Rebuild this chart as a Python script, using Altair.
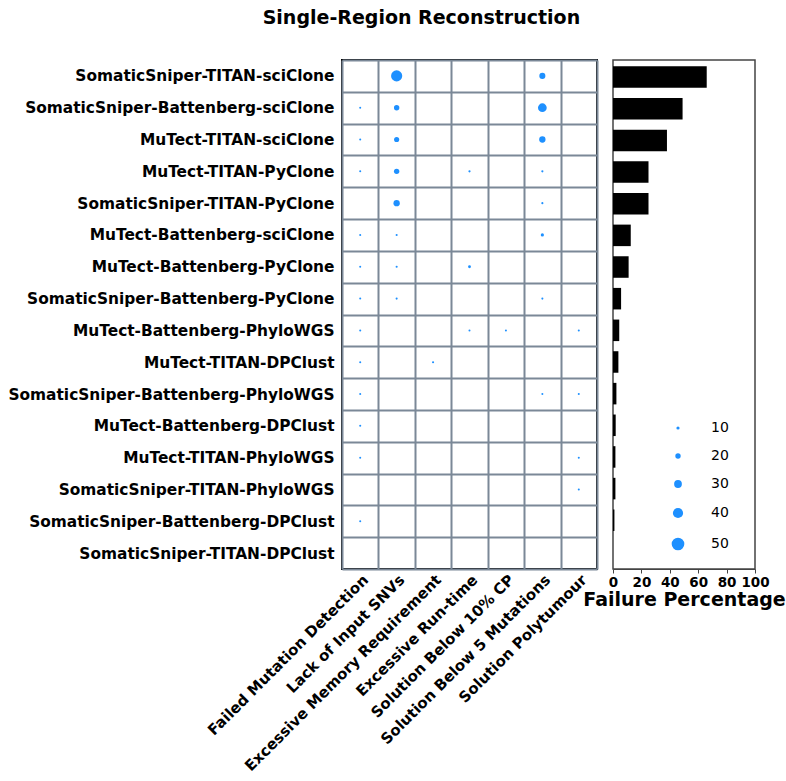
import altair as alt
import pandas as pd

pipelines = [
    "SomaticSniper-TITAN-sciClone",
    "SomaticSniper-Battenberg-sciClone",
    "MuTect-TITAN-sciClone",
    "MuTect-TITAN-PyClone",
    "SomaticSniper-TITAN-PyClone",
    "MuTect-Battenberg-sciClone",
    "MuTect-Battenberg-PyClone",
    "SomaticSniper-Battenberg-PyClone",
    "MuTect-Battenberg-PhyloWGS",
    "MuTect-TITAN-DPClust",
    "SomaticSniper-Battenberg-PhyloWGS",
    "MuTect-Battenberg-DPClust",
    "MuTect-TITAN-PhyloWGS",
    "SomaticSniper-TITAN-PhyloWGS",
    "SomaticSniper-Battenberg-DPClust",
    "SomaticSniper-TITAN-DPClust",
]

reasons = [
    "Failed Mutation Detection",
    "Lack of Input SNVs",
    "Excessive Memory Requirement",
    "Excessive Run-time",
    "Solution Below 10% CP",
    "Solution Below 5 Mutations",
    "Solution Polytumour",
]

# percentage of runs failing for each reason (rows follow `pipelines`)
failed_mutation_detection = [0, 1, 1, 1, 0, 1, 1, 1, 1.1, 1, 0.8, 1.9, 0.9, 0, 1, 0]
lack_of_input_snvs = [44, 20, 19, 20, 24, 2.5, 2.5, 2.5, 0, 0, 0, 0, 0, 0, 0, 0]
excessive_memory = [0, 0, 0, 0, 0, 0, 0, 0, 0, 3, 0, 0, 0, 0, 0, 0]
excessive_runtime = [0, 0, 0, 4, 0, 0, 8, 0, 1.1, 0, 0, 0, 0, 0, 0, 0]
below_10_cp = [0, 0, 0, 0, 0, 0, 0, 0, 1.1, 0, 0, 0, 0, 0, 0, 0]
below_5_mutations = [23, 34, 24, 3.5, 3, 10, 0, 2.5, 0, 0, 0.8, 0, 0, 0, 0, 0]
polytumour = [0, 0, 0, 0, 0, 0, 0, 0, 1.1, 0, 0.8, 0, 0.8, 1.7, 0, 0]

failure_percentage = [66, 49, 38, 25, 25, 12.5, 11, 5.7, 4.4, 3.8, 2.4, 1.9, 1.7, 1.7, 1.0, 0]

legend_values = [10, 20, 30, 40, 50]

series = [
    failed_mutation_detection,
    lack_of_input_snvs,
    excessive_memory,
    excessive_runtime,
    below_10_cp,
    below_5_mutations,
    polytumour,
]

rows = []
for reason, vals in zip(reasons, series):
    for p, v in zip(pipelines, vals):
        if v > 0:
            rows.append({"pipeline": p, "reason": reason, "value": v})
dots_df = pd.DataFrame(rows)
bars_df = pd.DataFrame({"pipeline": pipelines, "failure": failure_percentage})

FONT = "DejaVu Sans"
BLUE = "#1E90FF"
GRIDC = "#7b8897"

size_scale = alt.Scale(type="pow", exponent=2, domain=[0, 50], range=[4, 160])

base = alt.Chart(dots_df)

dot_marks = base.mark_circle(color=BLUE, opacity=1).encode(
    x=alt.X(
        "reason:N",
        sort=reasons,
        scale=alt.Scale(domain=reasons, paddingInner=0, paddingOuter=0),
        axis=alt.Axis(
            title=None,
            labelAngle=-45,
            labelAlign="right",
            labelBaseline="top",
            labelFont=FONT,
            labelFontWeight="bold",
            labelFontSize=15,
            labelColor="black",
            labelLimit=0,
            labelPadding=3,
            ticks=False,
            domain=False,
            grid=True,
            gridColor=GRIDC,
            gridWidth=2,
            tickBand="extent",
        ),
    ),
    y=alt.Y(
        "pipeline:N",
        sort=pipelines,
        scale=alt.Scale(domain=pipelines, paddingInner=0, paddingOuter=0),
        axis=alt.Axis(
            title=None,
            labelFont=FONT,
            labelFontWeight="bold",
            labelFontSize=15.4,
            labelColor="black",
            labelLimit=0,
            labelPadding=8,
            ticks=False,
            domain=False,
            grid=True,
            gridColor=GRIDC,
            gridWidth=2,
            tickBand="extent",
        ),
    ),
    size=alt.Size("value:Q", scale=size_scale, legend=None),
)

# legend source: same size scale, outlined symbols, draws no marks itself
legend_layer = base.mark_point(
    shape="circle", filled=True, fill=BLUE, stroke="black", strokeWidth=1.2, opacity=1
).encode(
    size=alt.Size(
        "value:Q",
        scale=size_scale,
        legend=alt.Legend(
            title=None,
            values=legend_values,
            orient="none",
            legendX=329,
            legendY=361,
            symbolType="circle",
            symbolFillColor=BLUE,
            symbolStrokeColor="black",
            symbolStrokeWidth=1.2,
            labelFont=FONT,
            labelFontSize=14,
            labelColor="black",
            labelOffset=26,
            rowPadding=14,
        ),
    ),
).transform_filter("false")

dots = alt.layer(dot_marks, legend_layer).resolve_scale(
    size="independent"
).resolve_legend(size="independent").properties(
    width=255,
    height=509,
    view=alt.ViewBackground(stroke="black", strokeWidth=2),
)

bars = alt.Chart(bars_df).mark_bar(color="black").encode(
    x=alt.X(
        "failure:Q",
        scale=alt.Scale(domain=[0, 100], nice=False),
        axis=alt.Axis(
            title="Failure Percentage",
            titleFont=FONT,
            titleFontSize=19,
            titleFontWeight="bold",
            titleColor="black",
            titlePadding=2,
            values=[0, 20, 40, 60, 80, 100],
            labelFont=FONT,
            labelFontWeight="bold",
            labelFontSize=13.5,
            labelColor="black",
            labelFlush=False,
            tickColor="#444",
            tickSize=4,
            domainColor="#444",
            grid=False,
        ),
    ),
    y=alt.Y(
        "pipeline:N",
        sort=pipelines,
        scale=alt.Scale(domain=pipelines, paddingInner=0.32, paddingOuter=0.2),
        axis=None,
    ),
).properties(
    width=142,
    height=509,
    view=alt.ViewBackground(stroke="#444", strokeWidth=1.5),
)

chart = alt.hconcat(dots, bars, spacing=16, bounds="flush").properties(
    title=alt.TitleParams(
        "Single-Region Reconstruction",
        font=FONT,
        fontSize=19,
        fontWeight="bold",
        color="black",
        anchor="middle",
        offset=24,
        dx=25,
    ),
    padding={"left": 6, "top": 9, "right": 0, "bottom": 0},
).configure(font=FONT).configure_view(stroke=None)

chart.save("out.html", embed_options={"renderer": "svg", "actions": False})
